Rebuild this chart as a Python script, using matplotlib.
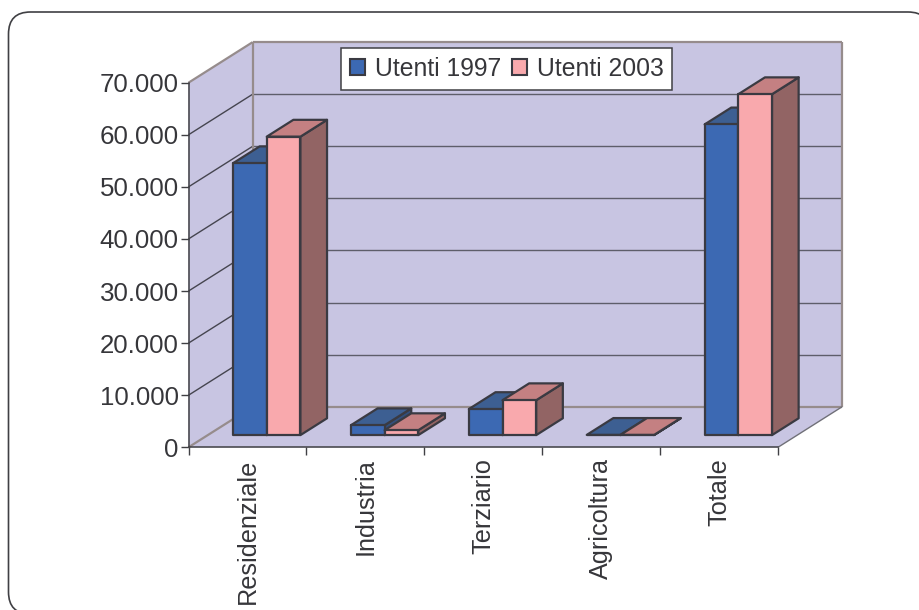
import matplotlib
matplotlib.use("Agg")
import matplotlib.pyplot as plt
from matplotlib.patches import FancyBboxPatch, Rectangle
from matplotlib.transforms import IdentityTransform
from matplotlib.ticker import FuncFormatter, FixedLocator, FixedFormatter, NullFormatter

categories = ["Residenziale", "Industria", "Terziario", "Agricoltura", "Totale"]
utenti_1997 = [52200, 1900, 5000, 40, 59650]
utenti_2003 = [57300, 950, 6700, 40, 65450]
series_names = ["Utenti 1997", "Utenti 2003"]
y_ticks = [0, 10000, 20000, 30000, 40000, 50000, 60000, 70000]

plt.rcParams["font.family"] = ["Liberation Sans", "DejaVu Sans"]
W, H = 920, 610
TEXT = "#36363a"
EDGE = "#3a3a42"
WALLEDGE = "#968c8c"
WALL = "#c8c5e2"
COL = {0: ("#3c69b3", "#3d5f92", "#324f7c"), 1: ("#f9a9ad", "#c48082", "#926464")}

fig = plt.figure(figsize=(W / 100, H / 100), dpi=100, facecolor="white")
# rounded frame in pixel coordinates; it runs off the right and bottom edges
frame = FancyBboxPatch((8.5, H - 614), 921.5, 602, boxstyle="round,pad=0,rounding_size=22",
                       transform=IdentityTransform(),
                       fc="white", ec="#404044", lw=1.2, zorder=0)
fig.add_artist(frame)

ax = fig.add_axes([188.5 / W, (H - 447.3) / H, (778 - 188.5) / W, (447.3 - 82.7) / H])
ax.patch.set_visible(False)
ax.set_xlim(0, len(categories))
ax.set_ylim(0, 70000)

# oblique projection: depth 0 = front plane, depth 1 = back wall
DX = 64.2 / 117.9
DY = 40.6 / 52.09 * 10000
def P(x, y, d=0.0):
    return (x + d * DX, y + d * DY)

def poly(points, fc, ec, lw=0.0, z=1):
    xs, ys = zip(*points)
    ax.fill(xs, ys, facecolor=fc, edgecolor=ec, linewidth=lw, zorder=z, clip_on=False, joinstyle="round")

def seg(a, b, color, lw, z=2):
    ax.plot([a[0], b[0]], [a[1], b[1]], color=color, lw=lw, zorder=z, clip_on=False, solid_capstyle="butt")

n = len(categories)
top = y_ticks[-1]
poly([P(0, 0), P(0, top), P(0, top, 1), P(0, 0, 1)], WALL, "none")
poly([P(0, 0, 1), P(0, top, 1), P(n, top, 1), P(n, 0, 1)], WALL, "none")
poly([P(0, 0), P(n, 0), P(n, 0, 1), P(0, 0, 1)], WALL, "none")

for v in y_ticks[1:-1]:
    seg(P(0, v), P(0, v, 1), "#45454f", 1.0)
    seg(P(0, v, 1), P(n, v, 1), "#5e5e6a", 1.0)
seg(P(0, top), P(0, top, 1), WALLEDGE, 1.6)
seg(P(0, top, 1), P(n, top, 1), WALLEDGE, 1.6)
seg(P(0, 0, 1), P(0, top, 1), WALLEDGE, 1.6)
seg(P(n, 0, 1), P(n, top, 1), WALLEDGE, 1.6)
seg(P(0, 0), P(0, 0, 1), WALLEDGE, 1.6)
seg(P(0, 0, 1), P(n, 0, 1), WALLEDGE, 1.6)
seg(P(n, 0), P(n, 0, 1), "#707078", 1.0)

# bars
bar_w = 1 / 3.5
D0, D1 = 0.30, 0.30 + 0.415
for i, vals in enumerate(zip(utenti_1997, utenti_2003)):
    for s, v in enumerate(vals):
        x0 = i + 0.75 * bar_w + s * bar_w
        x1 = x0 + bar_w
        front, topc, side = COL[s]
        z = 5 + i * 3 + s
        poly([P(x1, 0, D0), P(x1, v, D0), P(x1, v, D1), P(x1, 0, D1)], side, EDGE, 1.6, z)
        poly([P(x0, v, D0), P(x1, v, D0), P(x1, v, D1), P(x0, v, D1)], topc, EDGE, 1.6, z)
        poly([P(x0, 0, D0), P(x1, 0, D0), P(x1, v, D0), P(x0, v, D0)], front, EDGE, 1.6, z)

# axes
for sp in ("top", "right"):
    ax.spines[sp].set_visible(False)
for sp in ("left", "bottom"):
    ax.spines[sp].set_color("#404044")
    ax.spines[sp].set_linewidth(1.1)
    ax.spines[sp].set_zorder(3)

ax.yaxis.set_major_locator(FixedLocator(y_ticks))
ax.yaxis.set_major_formatter(FuncFormatter(lambda v, _: f"{int(v):,}".replace(",", ".")))
ax.tick_params(axis="y", length=5.8, width=1.0, color="#404044", pad=1.2, labelsize=18.6, labelcolor=TEXT)

ax.xaxis.set_major_locator(FixedLocator(range(n + 1)))
ax.xaxis.set_major_formatter(NullFormatter())
ax.xaxis.set_minor_locator(FixedLocator([i + 0.5 for i in range(n)]))
ax.xaxis.set_minor_formatter(FixedFormatter(categories))
ax.tick_params(axis="x", which="major", length=5.8, width=1.0, color="#404044")
ax.tick_params(axis="x", which="minor", length=0, pad=8, labelsize=18.2, labelcolor=TEXT, labelrotation=90)

handles = [Rectangle((0, 0), 1, 1, fc=COL[i][0], ec=EDGE, lw=1.5) for i in range(2)]
leg = ax.legend(handles, series_names, ncol=2, loc="center",
                bbox_to_anchor=((506.7 - 188.5) / (778 - 188.5), (447.3 - 69) / (447.3 - 82.7)),
                fontsize=17.8, frameon=True, fancybox=False, framealpha=1,
                edgecolor="#404044", facecolor="white", labelcolor=TEXT,
                handlelength=0.6, handleheight=0.6, handletextpad=0.4, columnspacing=0.45,
                borderpad=0.35, borderaxespad=0)
leg.get_frame().set_linewidth(1.1)
leg.set_zorder(40)

fig.savefig("out.png", dpi=100)
